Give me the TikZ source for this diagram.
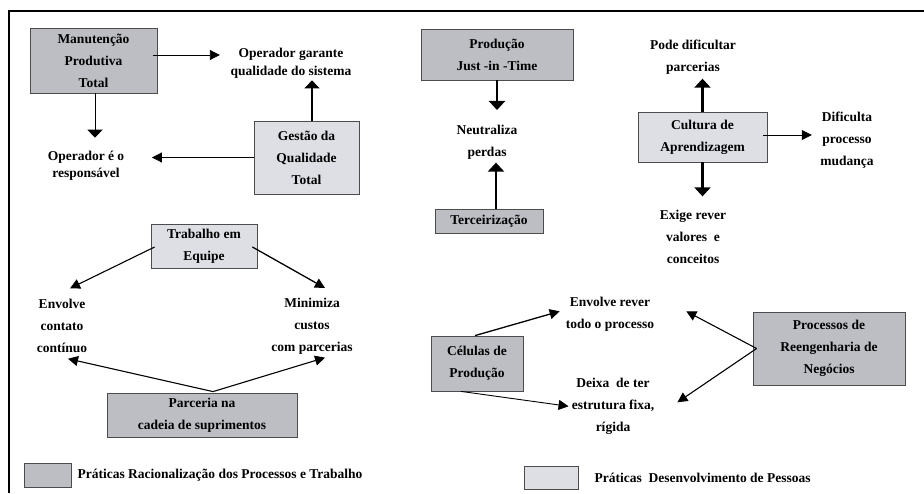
\documentclass[tikz,border=0pt]{standalone}
\usepackage{fontspec}
\setmainfont{Liberation Serif}
\usetikzlibrary{positioning,arrows.meta}
\definecolor{darkFill}{RGB}{189,190,195}
\definecolor{lightFill}{RGB}{222,223,228}
\tikzset{
  darkBox/.style={rectangle, fill=darkFill, draw=black!70, line width=0.8pt, align=center, inner sep=0pt},
  lightBox/.style={rectangle, fill=lightFill, draw=black!70, line width=0.8pt, align=center, inner sep=0pt},
  note/.style={align=center, inner sep=0pt},
  tightNote/.style={note, font={\bfseries\fontsize{13.5}{17.5}\selectfont}},
  applyOp/.style={-{Triangle[length=10pt,width=10pt]}, line width=1.1pt},
  applyOpWide/.style={-{Triangle[length=8pt,width=15pt]}, line width=1pt},
  applyOpThick/.style={-{Triangle[length=9pt,width=16pt]}, line width=2.2pt}
}
\begin{document}
\begin{tikzpicture}[x=1pt, y=-1pt, font={\bfseries\fontsize{13.5}{22}\selectfont}]
  \useasboundingbox (0,0) rectangle (924,493);
  \draw [line width=2.2pt] (924,11) -- (9,11) -- (9,493);

  % praticas
  \node [darkBox, minimum width=127pt, minimum height=65pt] (mpt) at (93.5,60.5) {Manutenção\\Produtiva\\Total};
  \node [lightBox, minimum width=105pt, minimum height=73pt] (gqt) at (306.5,157.5) {Gestão da\\Qualidade\\Total};
  \node [darkBox, minimum width=152pt, minimum height=51pt] (jit) at (497,54.5) {Produção\\Just -in -Time};
  \node [darkBox, minimum width=108pt, minimum height=24pt] (terc) at (489,221) {Terceirização};
  \node [lightBox, minimum width=129pt, minimum height=50pt] (cult) at (702.5,137) {Cultura de\\Aprendizagem};
  \node [lightBox, minimum width=106pt, minimum height=44pt] (trab) at (204,246) {Trabalho em\\Equipe};
  \node [darkBox, minimum width=190pt, minimum height=44pt] (parc) at (202,415) {Parceria na\\cadeia de suprimentos};
  \node [darkBox, minimum width=92pt, minimum height=55pt] (cel) at (477,363.5) {Células de\\Produção};
  \node [darkBox, minimum width=152pt, minimum height=73pt] (proc) at (829,348.5) {Processos de\\Reengenharia de\\Negócios};

  % efeitos
  \node [tightNote] (opg) at (291,63.3) {Operador garante\\qualidade do sistema};
  \node [tightNote] (opr) at (86,165.8) {Operador é o\\responsável};
  \node [note] (neut) at (487,142.3) {Neutraliza\\perdas};
  \node [note] (pode) at (693,57.3) {Pode dificultar\\parcerias};
  \node [note] (dific) at (847,140.3) {Dificulta\\processo\\mudança};
  \node [note] (exige) at (693,237.3) {Exige rever\\valores\ \ e\\conceitos};
  \node [note] (envc) at (62,326.3) {Envolve\\contato\\contínuo};
  \node [note] (mini) at (312,326.3) {Minimiza\\custos\\com parcerias};
  \node [note] (envr) at (610,314.3) {Envolve rever\\todo o processo};
  \node [note] (deixa) at (613,406.3) {Deixa\ \ de ter\\estrutura fixa,\\rígida};

  % legenda
  \node [darkBox, minimum width=47pt, minimum height=24pt] (leg1) at (47.5,475) {};
  \node [note, right=6pt of leg1] (leg1txt) {Práticas Racionalização dos Processos e Trabalho};
  \node [lightBox, minimum width=54pt, minimum height=23pt] (leg2) at (551,477.5) {};
  \node [note, right=16pt of leg2] (leg2txt) {Práticas\ \ Desenvolvimento de Pessoas};

  % setas
  \draw [applyOp, line width=0.9pt, shorten >=10.6pt] ([xshift=-4pt,yshift=5.5pt]mpt.east) -- ([yshift=5.5pt]mpt.east -| opg.west);
  \draw [applyOpWide, line width=1.3pt, shorten >=2pt] ([xshift=5.5pt]gqt.north) -- ([xshift=5.5pt]gqt.north |- opg.south);
  \draw [applyOpWide, shorten >=13pt] ([xshift=1.5pt]mpt.south) -- ([xshift=1.5pt]mpt.south |- opr.north);
  \draw [applyOp, line width=0.9pt, shorten >=27.5pt] (gqt.west) -- (gqt.west -| opr.east);
  \draw [applyOpThick, shorten >=15pt] (jit.south) -- (jit.south |- neut.north);
  \draw [applyOpThick, shorten >=3pt] ([xshift=7pt]terc.north) -- ([xshift=7pt]terc.north |- neut.south);
  \draw [applyOpThick, shorten >=4pt] (cult.north) -- (cult.north |- pode.south);
  \draw [applyOpThick, shorten >=14pt] (cult.south) -- (cult.south |- exige.north);
  \draw [applyOp, line width=0.9pt, shorten >=8.4pt] ([xshift=-4pt,yshift=2pt]cult.east) -- ([yshift=2pt]cult.east -| dific.west);
  \draw [applyOp] ([xshift=4pt,yshift=-1pt]trab.west) -- ([xshift=8pt,yshift=11pt]envc.north);
  \draw [applyOp, line width=1.3pt] ([xshift=-5pt,yshift=-1pt]trab.east) -- ([xshift=13pt,yshift=10pt]mini.north);
  \draw [applyOp] ([xshift=11pt,yshift=1pt]parc.north) -- ([xshift=6pt,yshift=-5.5pt]envc.south);
  \draw [applyOp] ([xshift=11pt,yshift=1pt]parc.north) -- ([xshift=13pt,yshift=-3pt]mini.south);
  \draw [applyOp, line width=1.3pt] ([xshift=-2pt]cel.north) -- ([xshift=-6pt,yshift=3pt]envr.west);
  \draw [applyOp, line width=0.9pt] ([xshift=-16pt]cel.south) -- ([xshift=-3pt]deixa.west);
  \draw [applyOp] ([xshift=4pt]proc.west) -- ([xshift=32pt,yshift=3pt]envr.east);
  \draw [applyOp] ([xshift=4pt]proc.west) -- ([xshift=23pt,yshift=4pt]deixa.east);
\end{tikzpicture}
\end{document}
